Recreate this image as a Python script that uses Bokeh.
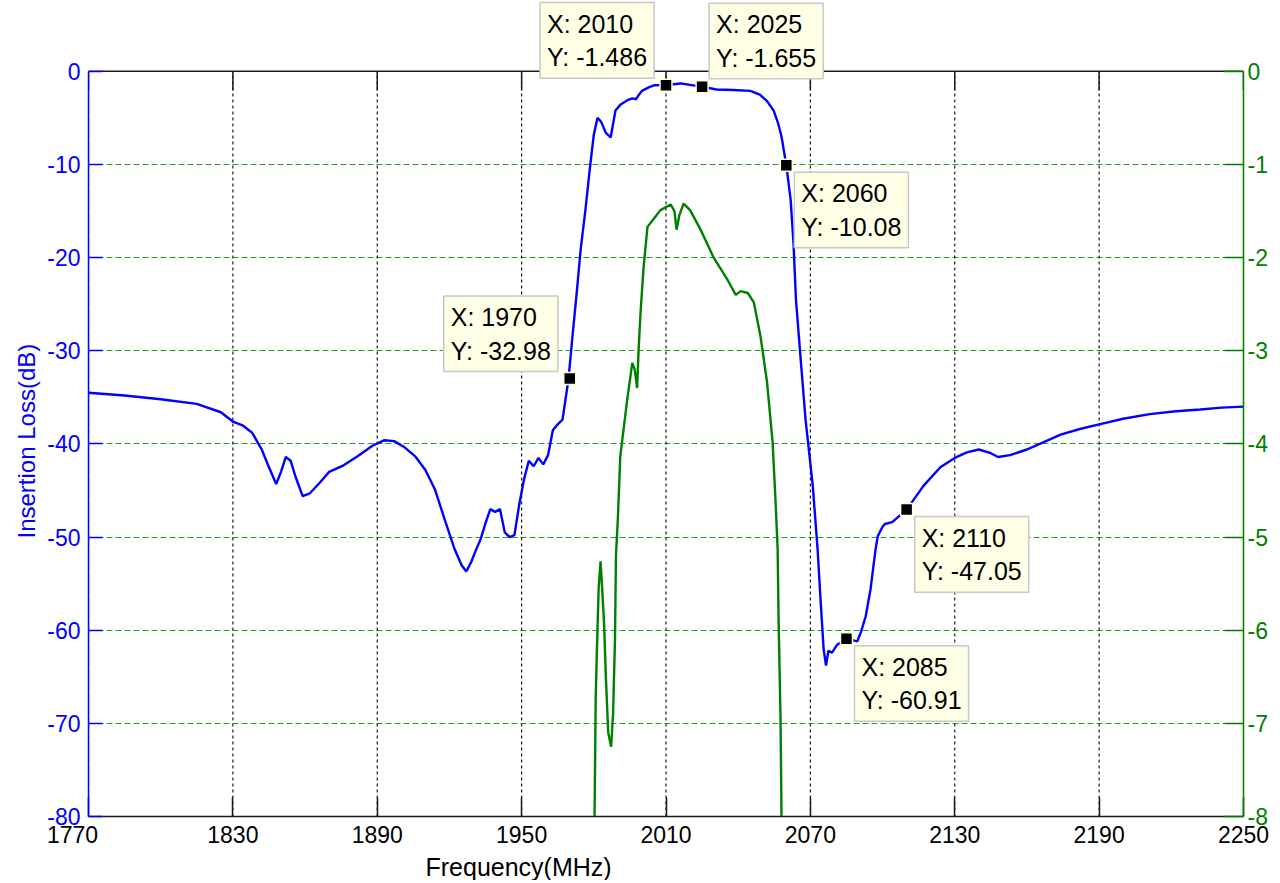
from bokeh.plotting import figure
from bokeh.models import Range1d, LinearAxis, FixedTicker, Label, ColumnDataSource, Title
from bokeh.embed import file_html
from bokeh.resources import INLINE

# ---------------- data ----------------
il_freq = [1770, 1785, 1800, 1815, 1825, 1830, 1834, 1838, 1842, 1845, 1848, 1850, 1852, 1854,
           1856, 1859, 1862, 1866, 1870, 1876, 1882, 1888, 1893, 1897, 1901, 1906, 1910, 1914,
           1918, 1922, 1925, 1927, 1929, 1931, 1933, 1935, 1937, 1939, 1941, 1943, 1945, 1947,
           1949, 1951, 1953, 1955, 1957, 1959, 1961, 1963, 1965, 1967, 1969.5, 1971, 1973,
           1974.5, 1976.5, 1978.5, 1980, 1981.5, 1983, 1985, 1987, 1989, 1991, 1994, 1996,
           1997.5, 1998.5, 2000, 2003, 2005, 2010, 2016, 2020, 2025, 2031, 2038, 2045, 2049,
           2052, 2054.7, 2056.5, 2058, 2060, 2061.8, 2063, 2064, 2066, 2068, 2071, 2073, 2074.2,
           2075.5, 2076.5, 2077.5, 2079, 2081, 2085, 2089.5, 2091, 2093, 2095, 2097, 2098, 2100,
           2101, 2104, 2110, 2117, 2124, 2130, 2135, 2140, 2145, 2148, 2153, 2160, 2167, 2174,
           2182, 2190, 2200, 2211, 2222, 2232, 2241, 2250]
il_db = [-34.5, -34.8, -35.2, -35.7, -36.6, -37.6, -38.0, -38.8, -40.6, -42.5, -44.3, -43.0, -41.4, -41.8,
         -43.5, -45.6, -45.3, -44.2, -43.0, -42.3, -41.3, -40.2, -39.6, -39.7, -40.3, -41.4, -42.8, -44.9,
         -48.1, -51.2, -53.0, -53.7, -52.7, -51.4, -50.2, -48.5, -47.0, -47.3, -47.0, -49.5, -50.0, -49.8,
         -46.5, -43.8, -41.8, -42.4, -41.5, -42.2, -41.2, -38.5, -37.9, -37.4, -33.0, -28.8, -23.5,
         -19.2, -14.9, -10.1, -6.8, -5.0, -5.4, -6.6, -7.1, -4.2, -3.6, -3.1, -2.9,
         -3.0, -2.6, -2.1, -1.7, -1.5, -1.486, -1.3, -1.45, -1.655, -1.95, -2.0, -2.1, -2.5,
         -3.2, -4.2, -5.5, -7.0, -10.08, -13.8, -18.5, -24.5, -31.0, -37.4, -44.5, -51.3, -56.6,
         -62.0, -63.8, -62.2, -62.4, -61.6, -60.91, -61.2, -60.2, -58.5, -55.6, -51.5, -49.9, -48.9,
         -48.6, -48.4, -47.05, -44.5, -42.5, -41.5, -40.9, -40.6, -41.0, -41.4, -41.2, -40.6, -39.8, -39.0,
         -38.4, -37.9, -37.3, -36.8, -36.5, -36.3, -36.1, -36.0]

g_freq = [1979.5, 1980.3, 1980.8, 1981.3, 1982, 1982.8, 1983.5, 1984.3, 1985, 1986, 1987.2, 1988,
          1988.8, 1989.2, 1990, 1991, 1994, 1996, 1997, 1998, 1998.6, 1999.4, 2000.7, 2002.3,
          2005, 2007.7, 2012, 2013.5, 2014.4, 2015.5, 2017.3, 2020, 2024.4, 2029.8, 2035.6,
          2039, 2041, 2044, 2046.5, 2049.3, 2052, 2054.3, 2055.5, 2056.4, 2056.8, 2057.6, 2058, 2058.5]
g_val = [-12, -8.0, -6.7, -6.2, -5.56, -5.26, -5.56, -5.95, -6.5, -7.1, -7.25, -6.9,
         -6.1, -5.2, -4.8, -4.13, -3.5, -3.13, -3.2, -3.4, -3.0, -2.6, -2.1, -1.67,
         -1.58, -1.49, -1.43, -1.5, -1.7, -1.55, -1.42, -1.49, -1.7, -2.0, -2.24,
         -2.4, -2.36, -2.38, -2.48, -2.85, -3.34, -3.98, -4.6, -5.13, -5.9, -6.95, -8.0, -12]

x_ticks = [1770, 1830, 1890, 1950, 2010, 2070, 2130, 2190, 2250]
y_ticks = [-80, -70, -60, -50, -40, -30, -20, -10, 0]
y2_ticks = [-8, -7, -6, -5, -4, -3, -2, -1, 0]

tip_x = [2010, 2025, 2060, 1970, 2085, 2110]
tip_y = [-1.486, -1.655, -10.08, -32.98, -60.91, -47.05]
tip_side = ["ul", "ur", "lr", "ul", "lr", "lr"]

x_label = "Frequency(MHz)"
y_label = "Insertion Loss(dB)"

BLUE = "#0000FF"
GREEN = "#008000"
GRID_GREEN = "#2f9a2f"
DARK = "#1a1a1a"
FONT = "Liberation Sans"

# layout constants (pixels): axes box 1155 x 747, with 71 px of headroom above it for the data tips
BOX_H = 747
HEAD = 71
x_lo, x_hi = x_ticks[0], x_ticks[-1]
y_lo, y_hi = y_ticks[0], y_ticks[-1]
g_lo, g_hi = y2_ticks[0], y2_ticks[-1]
y_top = y_hi + (y_hi - y_lo) * HEAD / BOX_H
g_top = g_hi + (g_hi - g_lo) * HEAD / BOX_H

p = figure(width=1272, height=880, x_range=Range1d(x_lo, x_hi), y_range=Range1d(y_lo, y_top),
           output_backend="svg", toolbar_location=None,
           min_border_left=88, min_border_right=29, min_border_top=0, min_border_bottom=62)
p.extra_y_ranges = {"g": Range1d(g_lo, g_top)}
p.outline_line_color = None
p.background_fill_color = "white"
p.border_fill_color = "white"

# grids: horizontal (green dashed) from the library grid, vertical drawn only inside the box
p.xgrid.visible = False
p.ygrid.ticker = FixedTicker(ticks=y_ticks)
p.ygrid.grid_line_color = GRID_GREEN
p.ygrid.grid_line_dash = "6 3"
p.ygrid.grid_line_width = 1.2
n = len(x_ticks)
p.segment(x0=x_ticks, x1=x_ticks, y0=[y_lo] * n, y1=[y_hi] * n,
          line_color=DARK, line_width=1.2, line_dash="3 3")

# top edge of the box and its inward ticks (19 px)
top_len = 19 * (y_hi - y_lo) / BOX_H
p.segment(x0=[x_lo], x1=[x_hi], y0=[y_hi], y1=[y_hi], line_color=DARK, line_width=1.5)
p.segment(x0=x_ticks, x1=x_ticks, y0=[y_hi] * n, y1=[y_hi - top_len] * n,
          line_color=DARK, line_width=1.5)

# bottom axis
xa = p.xaxis[0]
xa.ticker = FixedTicker(ticks=x_ticks)
xa.major_label_overrides = {x_ticks[0]: str(x_ticks[0]) + "\u00a0" * 5}
xa.axis_line_color = DARK
xa.axis_line_width = 1.5
xa.major_tick_line_color = DARK
xa.major_tick_line_width = 1.5
xa.major_tick_in = 19
xa.major_tick_out = 0
xa.minor_tick_line_color = None
xa.major_label_text_font = FONT
xa.major_label_text_font_size = "23px"
xa.major_label_text_color = "black"
xa.major_label_standoff = 5

# left axis
ya = p.yaxis[0]
ya.bounds = (y_lo, y_hi)
ya.ticker = FixedTicker(ticks=y_ticks)
ya.major_label_overrides = {t: str(t) for t in y_ticks}
ya.axis_line_color = BLUE
ya.axis_line_width = 1.5
ya.major_tick_line_color = BLUE
ya.major_tick_line_width = 1.5
ya.major_tick_in = 14
ya.major_tick_out = 0
ya.minor_tick_line_color = None
ya.major_label_text_font = FONT
ya.major_label_text_font_size = "23px"
ya.major_label_text_color = BLUE
ya.major_label_standoff = 8

# y-axis title, positioned from the bottom of the axes box
p.add_layout(Title(text=y_label, align="left", offset=278, text_font=FONT,
                   text_font_size="24px", text_font_style="normal", text_color=BLUE,
                   standoff=10), "left")

# right axis
ra = LinearAxis(y_range_name="g", ticker=FixedTicker(ticks=y2_ticks), bounds=(g_lo, g_hi))
ra.major_label_overrides = {t: str(t) for t in y2_ticks}
ra.axis_line_color = GREEN
ra.axis_line_width = 1.5
ra.major_tick_line_color = GREEN
ra.major_tick_line_width = 1.5
ra.major_tick_in = 19
ra.major_tick_out = 0
ra.minor_tick_line_color = None
ra.major_label_text_font = FONT
ra.major_label_text_font_size = "23px"
ra.major_label_text_color = GREEN
ra.major_label_standoff = 4
p.add_layout(ra, "right")

# x-axis title, placed left of centre as in the original
p.add_layout(Title(text=x_label, align="left", offset=337, text_font=FONT,
                   text_font_size="25px", text_font_style="normal", text_color="black",
                   standoff=0), "below")

# curves
p.line(g_freq, g_val, y_range_name="g", line_color=GREEN, line_width=2.4)
p.line(il_freq, il_db, line_color=BLUE, line_width=2.4)

# data tips
src = ColumnDataSource(dict(x=tip_x, y=tip_y))
p.scatter("x", "y", source=src, marker="square", size=12, fill_color="black",
          line_color="#FFFFD8", line_width=1.5)

BOX_W = 118
for tx, ty, side in zip(tip_x, tip_y, tip_side):
    txt = f"X: {tx}\nY: {ty:g}"
    if side == "ul":
        base, xo, yo = "bottom", -(BOX_W + 8), 7
    elif side == "ur":
        base, xo, yo = "bottom", 7, 8
    else:
        base, xo, yo = "top", 8, -7
    p.add_layout(Label(x=tx, y=ty, text=txt, text_align="left", text_baseline=base,
                       x_offset=xo, y_offset=yo, text_font=FONT, text_font_size="25px",
                       text_color="black", text_line_height=1.2,
                       background_fill_color="#FFFFE6", border_line_color="#C8C8C8",
                       border_line_width=1.5, padding=7))

open("out.html", "w").write(file_html(p, INLINE))
